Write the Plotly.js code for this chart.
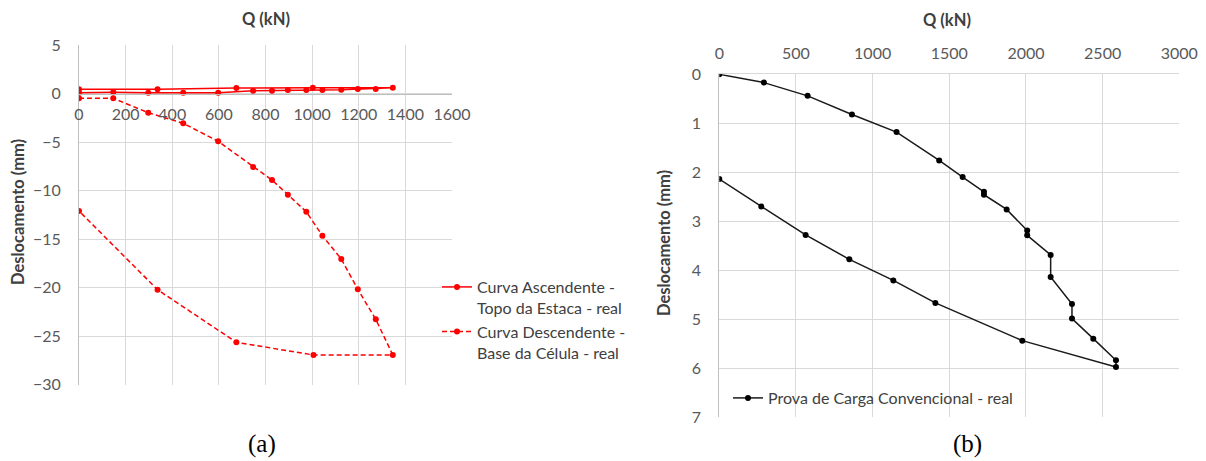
<!DOCTYPE html>
<html>
<head>
<meta charset="utf-8">
<script src="https://cdn.plot.ly/plotly-3.0.1.min.js"></script>
<style>
html,body{margin:0;padding:0;background:#fff;}
#chart{width:1206px;height:461px;}
</style>
</head>
<body>
<div id="chart"></div>
<script>
// ---- Data (a) ----
const qAsc = [0, 147, 297, 447, 597, 747, 828, 896, 975, 1044, 1125, 1196, 1273, 1346, 1003, 675, 337, 0];
const dAsc = [0.08, 0.12, 0.08, 0.08, 0.08, 0.29, 0.29, 0.36, 0.36, 0.36, 0.39, 0.46, 0.46, 0.6, 0.6, 0.57, 0.43, 0.43];
const qDesc = [0, 147, 297, 447, 597, 747, 828, 896, 975, 1044, 1125, 1196, 1273, 1346, 1006, 675, 337, 0];
const dDesc = [-0.5, -0.5, -1.98, -3.07, -4.93, -7.58, -8.92, -10.43, -12.19, -14.66, -17.06, -20.19, -23.28, -26.96, -26.96, -25.65, -20.23, -12.11];
const nameAsc = "Curva Ascendente -<br>Topo da Estaca - real";
const nameDesc = "Curva Descendente -<br>Base da Célula - real";

// ---- Data (b) ----
const qConv = [0, 291, 576, 865, 1156, 1434, 1587, 1726, 1726, 1874, 2008, 2008, 2161, 2161, 2300, 2300, 2439, 2587, 2587, 1976, 1409, 1135, 848, 563, 274, 0];
const dConv = [0, 0.17, 0.44, 0.82, 1.18, 1.76, 2.10, 2.40, 2.46, 2.76, 3.19, 3.29, 3.69, 4.14, 4.69, 4.99, 5.40, 5.84, 5.98, 5.44, 4.67, 4.21, 3.78, 3.28, 2.70, 2.14];
const nameConv = "Prova de Carga Convencional - real";

const xTitle = "Q (kN)";
const yTitle = "Deslocamento (mm)";
const labelA = "(a)";
const labelB = "(b)";

const xRangeA = [0, 1600], yRangeA = [-30, 5];
const xRangeB = [0, 3000], yRangeB = [7, 0];

// ---- Layout helpers ----
const W = 1206, H = 461;
const px = v => v / W;
const py = v => 1 - v / H;

const domXA = [px(79), px(452)];
const domYA = [py(384.5), py(45)];
const domXB = [px(719.3), px(1179.3)];
const domYB = [py(417), py(74.3)];

// x axis of (a) crosses at y = 0
const fracZero = (0 - yRangeA[0]) / (yRangeA[1] - yRangeA[0]);
const xPosA = domYA[0] + fracZero * (domYA[1] - domYA[0]);

const FONT = "Lato, 'Open Sans', sans-serif";
const tickFont = {family: FONT, size: 16, color: "#595959"};
const gridC = "#d9d9d9";
const axC = "#bfbfbf";
const titleFont = {family: FONT, size: 16.5, color: "#404040"};
const serif = {family: "'Liberation Serif', 'DejaVu Serif', serif", size: 25, color: "#000"};

const traces = [
  {x: qAsc, y: dAsc, xaxis: "x", yaxis: "y", name: nameAsc, mode: "lines+markers",
   line: {color: "#ff0000", width: 1.5}, marker: {color: "#ff0000", size: 6}, legend: "legend"},
  {x: qDesc, y: dDesc, xaxis: "x", yaxis: "y", name: nameDesc, mode: "lines+markers",
   line: {color: "#ff0000", width: 1.5, dash: "5px,3px"}, marker: {color: "#ff0000", size: 6}, legend: "legend"},
  {x: qConv, y: dConv, xaxis: "x2", yaxis: "y2", name: nameConv, mode: "lines+markers",
   line: {color: "#1a1a1a", width: 1.5}, marker: {color: "#000000", size: 6}, legend: "legend2"}
];

const layout = {
  width: W, height: H,
  margin: {l: 0, r: 0, t: 0, b: 0},
  paper_bgcolor: "#ffffff", plot_bgcolor: "#ffffff",
  showlegend: true,
  xaxis: {
    domain: domXA, range: xRangeA, tickvals: [0,200,400,600,800,1000,1200,1400,1600],
    anchor: "free", position: xPosA, side: "bottom",
    showgrid: true, gridcolor: gridC, gridwidth: 1,
    showline: true, linecolor: axC, linewidth: 1,
    zeroline: false, ticks: "", tickfont: tickFont, ticklabelstandoff: 6
  },
  yaxis: {
    domain: domYA, range: yRangeA, tickvals: [-30,-25,-20,-15,-10,-5,0,5],
    anchor: "x", showgrid: true, gridcolor: gridC, gridwidth: 1,
    showline: true, linecolor: axC, linewidth: 1, zeroline: false,
    ticks: "", tickfont: tickFont, ticklabelstandoff: 14
  },
  xaxis2: {
    domain: domXB, range: xRangeB, tickvals: [0,500,1000,1500,2000,2500,3000],
    anchor: "y2", side: "top",
    showgrid: true, gridcolor: gridC, gridwidth: 1,
    showline: true, linecolor: gridC, linewidth: 1, mirror: false,
    zeroline: false, ticks: "", tickfont: tickFont, ticklabelstandoff: 8
  },
  yaxis2: {
    domain: domYB, range: yRangeB, tickvals: [0,1,2,3,4,5,6,7],
    anchor: "x2", showgrid: true, gridcolor: gridC, gridwidth: 1,
    showline: true, linecolor: axC, linewidth: 1, zeroline: false,
    ticks: "", tickfont: tickFont, ticklabelstandoff: 14
  },
  legend: {
    x: px(437), y: py(270), xanchor: "left", yanchor: "top", valign: "top",
    bgcolor: "rgba(0,0,0,0)", font: {family: FONT, size: 16, color: "#404040"},
    tracegroupgap: 0
  },
  legend2: {
    x: px(728), y: py(398), xanchor: "left", yanchor: "middle",
    bgcolor: "rgba(0,0,0,0)", font: {family: FONT, size: 16, color: "#404040"}
  },
  annotations: [
    {text: "<b>" + xTitle + "</b>", xref: "paper", yref: "paper", x: px(265.5), y: py(19),
     showarrow: false, xanchor: "center", yanchor: "middle", font: titleFont},
    {text: "<b>" + xTitle + "</b>", xref: "paper", yref: "paper", x: px(947), y: py(20),
     showarrow: false, xanchor: "center", yanchor: "middle", font: titleFont},
    {text: "<b>" + yTitle + "</b>", xref: "paper", yref: "paper", x: px(18), y: py(212),
     showarrow: false, textangle: -90, xanchor: "center", yanchor: "middle", font: titleFont},
    {text: "<b>" + yTitle + "</b>", xref: "paper", yref: "paper", x: px(664), y: py(243),
     showarrow: false, textangle: -90, xanchor: "center", yanchor: "middle", font: titleFont},
    {text: labelA, xref: "paper", yref: "paper", x: px(262), y: py(444),
     showarrow: false, xanchor: "center", yanchor: "middle", font: serif},
    {text: labelB, xref: "paper", yref: "paper", x: px(967), y: py(444),
     showarrow: false, xanchor: "center", yanchor: "middle", font: serif}
  ]
};

Plotly.newPlot("chart", traces, layout, {displayModeBar: false, staticPlot: true});
</script>
</body>
</html>
